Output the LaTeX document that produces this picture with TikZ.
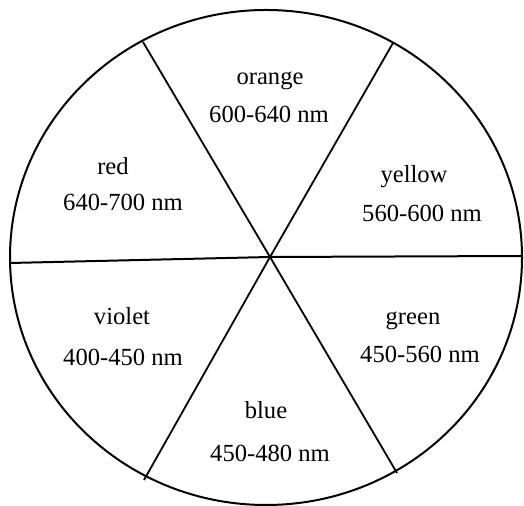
\documentclass[tikz,border=0pt]{standalone}
\usepackage{fontspec}
\setmainfont{Liberation Serif}
\usepackage{tikz}
\usetikzlibrary{positioning}

\begin{document}
\begin{tikzpicture}[x={(0.5pt,0)}, y={(0,-0.5pt)},
        band/.style={anchor=base, inner sep=0pt, font=\fontsize{12.3}{14}\selectfont}]
        \useasboundingbox (0, 0) rectangle (524, 506);

        % Wheel
        \coordinate (c) at (270, 257);
        \draw[line width=1pt] (266, 257.5) ellipse [x radius=256, y radius=247.5];

        % Spokes
        \coordinate (tl) at (143, 42);
        \coordinate (tr) at (393, 43);
        \coordinate (bl) at (144, 480);
        \coordinate (br) at (397, 473);
        \coordinate (l) at (10, 263);
        \coordinate (r) at (522, 256);
        \draw[line width=0.9pt] (tl) -- (c) -- (br);
        \draw[line width=0.9pt] (tr) -- (c) -- (bl);
        \draw[line width=1pt] (l) -- (c) -- (r);

        % Labels
        \node[band] (orange) at (270, 85) {orange};
        \node[band] (orangenm) at (269, 123) {600-640 nm};
        \node[band] (red) at (113, 175) {red};
        \node[band] (rednm) at (123, 211) {640-700 nm};
        \node[band] (yellow) at (414, 183) {yellow};
        \node[band] (yellownm) at (422, 222) {560-600 nm};
        \node[band] (violet) at (122, 325) {violet};
        \node[band] (violetnm) at (123, 366) {400-450 nm};
        \node[band] (green) at (413, 325) {green};
        \node[band] (greennm) at (420, 363) {450-560 nm};
        \node[band] (blue) at (266, 419) {blue};
        \node[band] (bluenm) at (270, 462) {450-480 nm};
\end{tikzpicture}
\end{document}
